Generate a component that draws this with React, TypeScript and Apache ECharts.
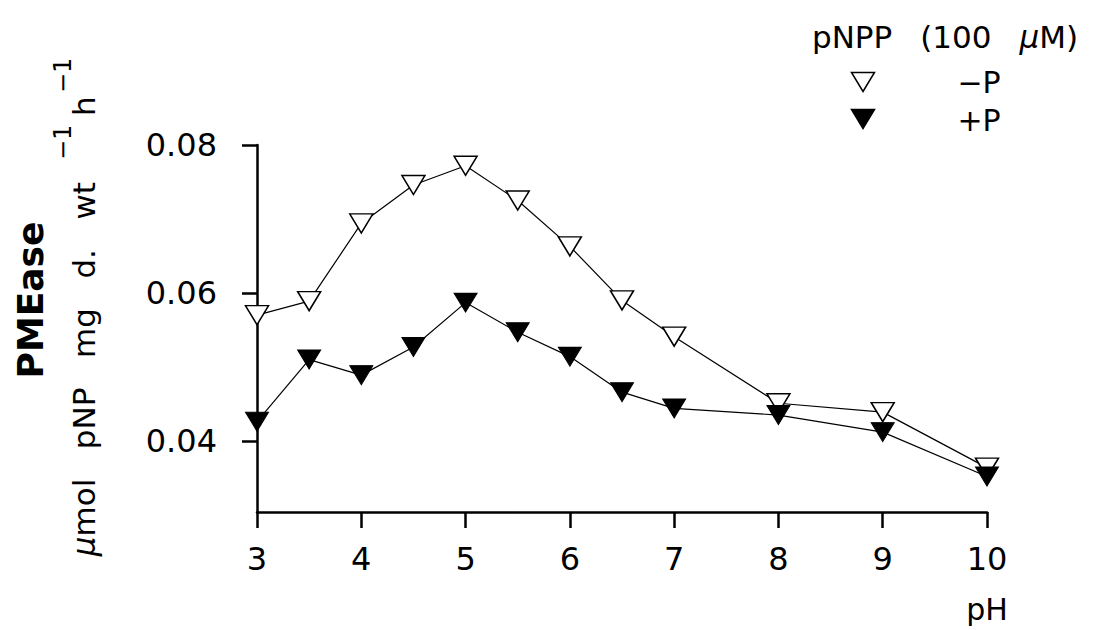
import React, { useEffect, useRef } from "react";
import * as echarts from "echarts";

const phValues = [3, 3.5, 4, 4.5, 5, 5.5, 6, 6.5, 7, 8, 9, 10];
const minusP = [0.057, 0.0589, 0.0694, 0.0746, 0.0772, 0.0725, 0.0663, 0.059, 0.0541, 0.0451, 0.0439, 0.0364];
const plusP = [0.0426, 0.051, 0.0489, 0.0527, 0.0587, 0.0547, 0.0514, 0.0466, 0.0444, 0.0435, 0.0412, 0.0352];
const yTicks = [0.04, 0.06, 0.08];
const seriesNames = ["−P", "+P"];

const FONT = "DejaVu Sans";

export default function App() {
  const ref = useRef<HTMLDivElement>(null);
  useEffect(() => {
    if (!ref.current) return;
    const chart = echarts.init(ref.current, null, { renderer: "svg" });
    const tri = (x: number, y: number, filled: boolean) => ({
      type: "polygon",
      x,
      y,
      shape: { points: [[-11.5, -9.5], [11.5, -9.5], [0, 9.5]] },
      style: { fill: filled ? "#000" : "#fff", stroke: "#000", lineWidth: 1.5 },
    });
    const rot = (text: string, x: number, y: number, size: number, align: string, extra: any = {}) => ({
      type: "text",
      x,
      y,
      rotation: Math.PI / 2,
      style: {
        text,
        fontFamily: FONT,
        fontSize: size,
        fill: "#000",
        align,
        verticalAlign: "middle",
        ...extra,
      },
    });
    const option: any = {
      animation: false,
      backgroundColor: "#fff",
      grid: { left: 257, right: 126, top: 145, bottom: 118, containLabel: false },
      xAxis: {
        type: "value",
        min: 3,
        max: 10,
        interval: 1,
        axisLine: { show: true, lineStyle: { color: "#000", width: 2.5 } },
        axisTick: { show: true, length: 16, lineStyle: { color: "#000", width: 2.5 } },
        axisLabel: { color: "#000", fontFamily: FONT, fontSize: 32, margin: 31 },
        splitLine: { show: false },
      },
      yAxis: {
        type: "value",
        min: 0.0304,
        max: 0.08,
        axisLine: { show: true, lineStyle: { color: "#000", width: 2.5 } },
        axisTick: { show: true, length: 15, customValues: yTicks, lineStyle: { color: "#000", width: 2.5 } },
        axisLabel: {
          color: "#000",
          fontFamily: FONT,
          fontSize: 32,
          margin: 40,
          customValues: yTicks,
          formatter: (v: number) => v.toFixed(2),
        },
        splitLine: { show: false },
      },
      series: [
        {
          name: seriesNames[0],
          type: "line",
          data: phValues.map((x, i) => [x, minusP[i]]),
          symbol: "triangle",
          symbolRotate: 180,
          symbolSize: [23, 19],
          clip: false,
          lineStyle: { color: "#000", width: 1.2 },
          itemStyle: { color: "#fff", borderColor: "#000", borderWidth: 1.5 },
          z: 2,
        },
        {
          name: seriesNames[1],
          type: "line",
          data: phValues.map((x, i) => [x, plusP[i]]),
          symbol: "triangle",
          symbolRotate: 180,
          symbolSize: [23, 19],
          clip: false,
          lineStyle: { color: "#000", width: 1.2 },
          itemStyle: { color: "#000", borderColor: "#000", borderWidth: 1 },
          z: 3,
        },
      ],
      graphic: [
        {
          type: "text",
          x: 945,
          y: 37,
          style: {
            text: "{t|pNPP}{s| }{t|(100}{s| }{mu|μ}{t|M)}",
            align: "center",
            verticalAlign: "middle",
            rich: {
              t: { fontFamily: FONT, fontSize: 31, fill: "#000" },
              s: { fontFamily: FONT, fontSize: 31, width: 28 },
              mu: { fontFamily: FONT, fontSize: 31, fill: "#000", fontStyle: "italic" },
            },
          },
        },
        tri(863, 82, false),
        tri(863, 119, true),
        {
          type: "text",
          x: 979,
          y: 82,
          style: { text: seriesNames[0], fontFamily: FONT, fontSize: 30, fill: "#000", align: "center", verticalAlign: "middle" },
        },
        {
          type: "text",
          x: 979,
          y: 120,
          style: { text: seriesNames[1], fontFamily: FONT, fontSize: 30, fill: "#000", align: "center", verticalAlign: "middle" },
        },
        {
          type: "text",
          x: 987,
          y: 609,
          style: { text: "pH", fontFamily: FONT, fontSize: 30, fill: "#000", align: "center", verticalAlign: "middle" },
        },
        rot("PMEase", 30, 300, 36, "center", { fontWeight: "bold" }),
        rot("{mu|μ}mol   pNP   mg   d.   wt", 84, 182, 31, "right", {
          rich: {
            mu: { fontFamily: FONT, fontSize: 31, fill: "#000", fontStyle: "italic" },
          },
        }),
        rot("−1", 63, 160, 24, "left"),
        rot("h", 84, 116, 31, "left"),
        rot("−1", 63, 93, 24, "left"),
      ],
    };
    chart.setOption(option);
    return () => chart.dispose();
  }, []);
  return (
    <div
      ref={ref}
      style={{ position: "absolute", left: 0, top: 0, width: 1113, height: 630 }}
    />
  );
}
